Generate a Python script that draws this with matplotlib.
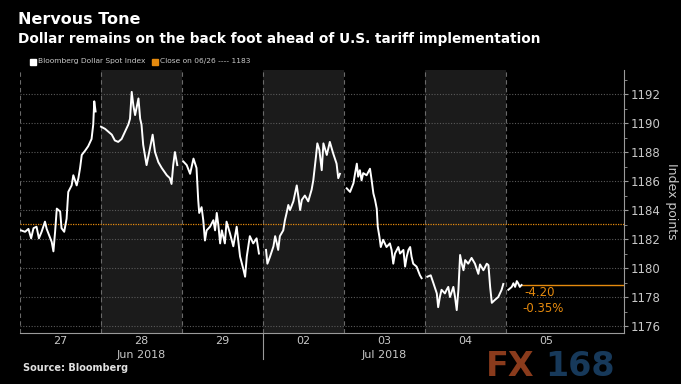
import numpy as np
import matplotlib.pyplot as plt
from matplotlib.patches import Rectangle

# intraday readings (hour of day, index level) per trading day
day_labels = ["27", "28", "29", "02", "03", "04", "05"]
shaded_days = [1, 3, 5]

h27 = [0.3, 1.5, 2.5, 3.3, 4.0, 4.9, 5.6, 6.4, 7.4, 7.9, 8.4, 9.4, 9.9, 10.4, 10.9, 11.9,
       12.3, 13.1, 13.8, 14.3, 15.3, 15.8, 16.8, 17.3, 17.8, 18.3, 19.3, 20.2, 21.2, 21.7, 22.0, 22.4]
v27 = [1182.6, 1182.5, 1182.7, 1182.05, 1182.75, 1182.85, 1182.05, 1182.5, 1183.2, 1182.7, 1182.4,
       1181.8, 1181.15, 1182.5, 1184.1, 1183.9, 1182.75, 1182.5, 1183.4, 1185.25, 1185.7, 1186.4,
       1185.7, 1186.2, 1186.9, 1187.8, 1188.1, 1188.4, 1188.9, 1189.9, 1191.5, 1190.8]

h28 = [0.0, 1.2, 3.2, 4.1, 5.1, 6.1, 7.1, 8.1, 8.6, 9.1, 9.6, 10.1, 11.1, 11.6, 12.0, 12.5, 13.0,
       13.5, 14.5, 15.3, 16.0, 17.0, 18.0, 19.5, 20.4, 20.9, 21.4, 21.9, 22.6]
v28 = [1189.75, 1189.6, 1189.2, 1188.8, 1188.7, 1188.9, 1189.4, 1189.9, 1190.3, 1192.15, 1191.2,
       1190.55, 1191.7, 1190.3, 1189.9, 1188.5, 1187.8, 1187.1, 1188.25, 1189.2, 1188.0, 1187.3,
       1186.9, 1186.4, 1186.2, 1185.8, 1187.1, 1188.0, 1187.1]

h29 = [0.4, 1.4, 2.4, 3.4, 4.3, 4.8, 5.1, 5.8, 6.3, 6.8, 7.3, 8.3, 9.3, 9.8, 10.3, 10.8, 11.3,
       11.8, 12.7, 13.2, 14.2, 15.2, 16.2, 17.2, 18.2, 18.7, 19.2, 20.1, 21.1, 22.1, 22.8]
v29 = [1187.35, 1187.1, 1186.5, 1187.55, 1186.9, 1184.7, 1183.8, 1184.2, 1183.3, 1181.9, 1182.6,
       1182.85, 1183.3, 1182.6, 1183.8, 1182.9, 1181.7, 1182.6, 1181.7, 1183.2, 1182.4, 1181.5,
       1182.85, 1180.8, 1179.9, 1179.4, 1180.8, 1182.2, 1181.7, 1182.05, 1181.0]

h02 = [0.9, 1.3, 2.1, 3.1, 3.6, 4.1, 4.5, 5.0, 6.0, 6.5, 7.0, 7.5, 8.0, 9.0, 9.5, 10.0, 10.5,
       11.0, 11.5, 12.4, 13.4, 14.4, 14.9, 15.7, 16.1, 16.7, 17.4, 17.9, 18.9, 19.8, 20.8, 21.8,
       22.3, 22.8]
v02 = [1181.25, 1180.3, 1180.8, 1181.5, 1182.2, 1181.7, 1181.25, 1182.2, 1182.6, 1183.3, 1183.8,
       1184.35, 1184.0, 1184.6, 1185.15, 1185.7, 1184.9, 1184.0, 1184.7, 1185.0, 1184.6, 1185.4,
       1186.05, 1187.7, 1188.6, 1188.15, 1186.75, 1188.6, 1187.8, 1188.7, 1187.9, 1187.2, 1186.2,
       1186.5]

h03 = [0.8, 1.8, 2.8, 3.3, 3.8, 4.2, 4.7, 5.2, 5.7, 6.7, 7.7, 8.2, 8.7, 9.2, 9.7, 10.0, 10.5,
       10.9, 11.6, 12.6, 13.6, 14.1, 14.6, 15.1, 16.1, 16.6, 17.6, 18.1, 18.6, 19.1, 19.6, 20.0,
       20.5, 21.5, 22.5, 23.0]
v03 = [1185.5, 1185.25, 1185.85, 1186.55, 1187.2, 1186.3, 1186.75, 1186.05, 1186.55, 1186.4,
       1186.85, 1186.05, 1185.15, 1184.7, 1184.1, 1182.85, 1182.15, 1181.45, 1181.95, 1181.45,
       1181.7, 1181.25, 1180.3, 1181.0, 1181.45, 1181.0, 1181.25, 1180.1, 1180.8, 1181.25,
       1181.45, 1180.8, 1180.3, 1180.1, 1179.5, 1179.3]

h04 = [0.7, 1.7, 2.5, 3.5, 3.9, 4.4, 4.9, 5.9, 6.4, 6.9, 7.4, 8.4, 8.9, 9.4, 9.9, 10.4, 10.9,
       11.4, 11.9, 12.8, 13.8, 14.8, 15.8, 16.3, 17.3, 18.3, 18.8, 19.3, 19.8, 20.7, 21.7, 22.7, 23.2]
v04 = [1179.4, 1179.5, 1178.95, 1178.25, 1177.3, 1178.0, 1178.5, 1178.25, 1178.5, 1178.7,
       1178.0, 1178.7, 1178.0, 1177.1, 1178.5, 1180.9, 1180.3, 1179.85, 1180.55, 1180.3, 1180.7,
       1180.3, 1179.6, 1180.25, 1179.85, 1180.3, 1180.2, 1178.7, 1177.6, 1177.8, 1178.0, 1178.5,
       1178.9]

h05 = [0.7, 1.7, 2.2, 2.7, 3.2, 3.6, 4.1, 4.6]
v05 = [1178.5, 1178.7, 1178.95, 1178.7, 1179.1, 1178.95, 1178.7, 1178.83]

hours = [h27, h28, h29, h02, h03, h04, h05]
values = [v27, v28, v29, v02, v03, v04, v05]

close_0626 = 1183.03
change_txt = "-4.20"
pct_txt = "-0.35%"
y_ticks = list(range(1176, 1193, 2))

orange = "#e58a0e"
grey = "#c8c8c8"

fig = plt.figure(figsize=(6.81, 3.84), dpi=100, facecolor="black")
ax = fig.add_axes([20 / 681, 1 - 333 / 384, 604 / 681, 263 / 384], facecolor="black")

x_max = 604 / 81
ax.set_xlim(0, x_max)
ax.set_ylim(1175.52, 1193.66)

for d in shaded_days:
    ax.axvspan(d, d + 1, color="#1b1b1b", lw=0, zorder=0)
for d in range(7):
    ax.axvline(d, color="#6a6a6a", lw=0.8, ls=(0, (4, 3)), zorder=1)
for yv in y_ticks:
    ax.axhline(yv, color="#5a5a5a", lw=0.8, ls=(0, (1, 1.5)), zorder=1)

ax.axhline(close_0626, color=orange, lw=0.9, ls=(0, (1, 1)), zorder=2)

for i, (h, v) in enumerate(zip(hours, values)):
    x = i + np.array(h) / 24.0
    ax.plot(x, v, color="white", lw=1.4, zorder=3)

last_x = len(hours) - 1 + hours[-1][-1] / 24.0
last_v = values[-1][-1]
ax.plot([last_x, x_max], [last_v, last_v], color=orange, lw=1.0, zorder=2)
ax.text(last_x + 0.03, last_v - 0.1, change_txt, color=orange, fontsize=8.5, va="top", ha="left")
ax.text(last_x + 0.01, last_v - 1.15, pct_txt, color=orange, fontsize=8.5, va="top", ha="left")

# spines and ticks
for s in ["top", "left"]:
    ax.spines[s].set_visible(False)
ax.spines["bottom"].set_color("#9a9a9a")
ax.spines["right"].set_color("#9a9a9a")
ax.yaxis.tick_right()
ax.set_yticks(y_ticks)
ax.set_yticks(range(1177, 1194, 2), minor=True)
ax.tick_params(axis="y", which="both", colors="#9a9a9a", labelcolor=grey, labelsize=8.5, length=3, pad=2)
ax.tick_params(axis="y", which="minor", length=2)
ax.yaxis.set_label_position("right")
ax.set_ylabel("Index points", color=grey, fontsize=9, rotation=270, labelpad=12)

ax.set_xticks([d + 0.5 for d in range(7)])
ax.set_xticklabels(day_labels)
ax.tick_params(axis="x", length=0, labelcolor=grey, labelsize=8, pad=2)

ax.text(1.5, -0.083, "Jun 2018", transform=ax.get_xaxis_transform(), color=grey, fontsize=8, ha="center", va="center")
ax.text(4.5, -0.083, "Jul 2018", transform=ax.get_xaxis_transform(), color=grey, fontsize=8, ha="center", va="center")
ax.plot([3, 3], [0, -0.1], transform=ax.get_xaxis_transform(), color="#9a9a9a", lw=0.8, clip_on=False)

# titles
fig.text(18 / 681, 1 - 19 / 384, "Nervous Tone", color="white", fontsize=11.5, fontweight="bold", va="center")
fig.text(18 / 681, 1 - 39 / 384, "Dollar remains on the back foot ahead of U.S. tariff implementation",
         color="white", fontsize=9.8, fontweight="bold", va="center")

# legend: place the second entry after the first one's measured width
renderer = fig.canvas.get_renderer()
fig.patches.append(Rectangle((30 / 681, 1 - 65 / 384), 6 / 681, 6 / 384, transform=fig.transFigure,
                             color="white"))
t1 = fig.text(38 / 681, 1 - 61.5 / 384, "Bloomberg Dollar Spot Index", color=grey, fontsize=5.4, va="center")
x2 = t1.get_window_extent(renderer).x1 / 681 + 6 / 681
fig.patches.append(Rectangle((x2, 1 - 65 / 384), 6 / 681, 6 / 384, transform=fig.transFigure,
                             color=orange))
fig.text(x2 + 8 / 681, 1 - 61.5 / 384, "Close on 06/26 ---- 1183", color=grey, fontsize=5.4, va="center")

fig.text(23 / 681, 1 - 368 / 384, "Source: Bloomberg", color="#e0e0e0", fontsize=7, fontweight="bold", va="center")

# watermark
fig.text(486 / 681, 1 - 383 / 384, "FX", color="#8a3b1c", fontsize=24, fontweight="bold", va="bottom")
fig.text(545 / 681, 1 - 383 / 384, "168", color="#17395a", fontsize=24, fontweight="bold", va="bottom")

fig.savefig("out.png", dpi=100, facecolor="black")
